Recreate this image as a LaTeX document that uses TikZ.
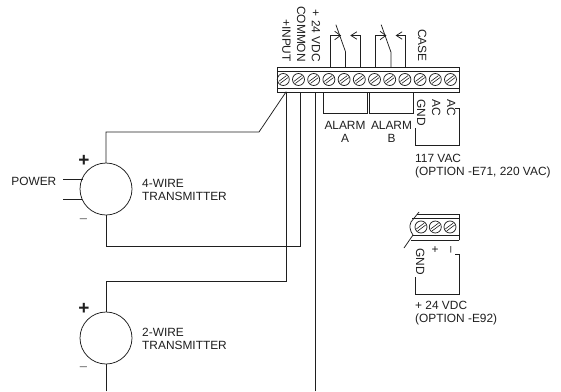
\documentclass[tikz,border=0pt]{standalone}
\usepackage{fontspec}
\setmainfont{Liberation Sans}
\definecolor{ink}{gray}{0.12}
\tikzset{
  wire/.style={draw=ink,line width=0.75pt,line cap=rect},
  lbl/.style={inner sep=0pt,font=\fontsize{11.9}{13}\selectfont,text=ink},
  lbll/.style={lbl,anchor=west,align=left},
  lblv/.style={lbl,rotate=-90,anchor=east},
  xmtr/.style={circle,draw=ink,line width=0.75pt,minimum size=52pt,inner sep=0pt},
  screw/.style={circle,draw=ink,line width=0.75pt,minimum size=12pt,inner sep=0pt},
  polar/.style={inner sep=0pt,font=\fontsize{19}{19}\selectfont\bfseries,text=ink},
  minusmark/.style={inner sep=0pt,font=\fontsize{13}{13}\selectfont,text=black!60},
}
\newcommand{\screwslot}[1]{%
  \draw[ink,line width=0.6pt] ([shift={(-4.6,1.9)}]#1.center)--([shift={(3.2,-3.9)}]#1.center);
  \draw[ink,line width=0.6pt] ([shift={(-3.2,3.9)}]#1.center)--([shift={(4.6,-1.9)}]#1.center);}
\begin{document}
\begin{tikzpicture}[x=1pt,y=-1pt]
\useasboundingbox (0,0) rectangle (561,391);
% terminal block
\draw[wire] (277,67) rectangle (459,92);
\draw[wire] (277,71)--(459,71) (277,88)--(459,88);
\foreach \i in {0,...,11}{
  \node[screw] (s\i) at ({283.3+15.2*\i},79.5) {};
  \screwslot{s\i}
}
% top labels
\node[lblv] (tinput) at (286.3,62) {+INPUT};
\node[lblv] (tcommon) at (301.2,62) {COMMON};
\node[lblv] (tvdc) at (316,62) {+ 24 VDC};
\node[lblv] (tcase) at (422.2,62) {CASE};
% transmitters
\node[xmtr] (x4) at (106,189) {};
\node[xmtr] (x2) at (106,338) {};
\node[polar] (p4) at (84,161) {+};
\node[minusmark] (m4) at (83.5,221) {–};
\node[polar] (p2) at (84,309) {+};
\node[minusmark] (m2) at (83.5,369) {–};
\node[lbll] (t4) at (142,190) {4-WIRE\\[0pt]TRANSMITTER};
\node[lbll] (t2) at (142,339) {2-WIRE\\[0pt]TRANSMITTER};
\node[lbl,anchor=east] (pw) at (56.5,181) {POWER};
% field wiring
\coordinate (bin) at (286,92);
\coordinate (bcom) at (300,92);
\coordinate (bvdc) at (315,92);
\coordinate (e2) at (106,391);
\coordinate (e3) at (315,391);
\draw[wire] (bin)--(259,132)--(106,132)--(x4.north);
\draw[wire] (x4.south)--(106,246)--(300,246)--(bcom);
\draw[wire] (bin)--(286,281)--(106,281)--(x2.north);
\draw[wire] (x2.south)--(e2);
\draw[wire] (bvdc)--(e3);
\coordinate (pa) at (63,179);
\coordinate (pb) at (63,199);
\draw[wire] (pa)--(83,179);
\draw[wire] (pb)--(82,199);
% relays
\foreach \d/\n in {0/a,45.3/b}{
  \begin{scope}[xshift=\d pt]
  \coordinate (r\n1) at (330.3,67);
  \coordinate (r\n2) at (345.6,67);
  \coordinate (r\n3) at (360.3,67);
  \draw[wire] (r\n1)--(330.3,35.5)--(340.5,35.5);
  \draw[wire] (335,31.5)--(340.5,35.5)--(335,39.5);
  \draw[wire] (r\n2)--(345.6,52)--(336,25);
  \draw[wire] (r\n3)--(360.3,35.5)--(351,35.5);
  \draw[wire] (356.5,32)--(351,35.5)--(356.5,39);
  \end{scope}
}
% alarm loops
\draw[wire] (323,92)--(323,113)--(367.5,113)--(367.5,92);
\draw[wire] (369.5,92)--(369.5,113)--(413.3,113)--(413.3,92);
\node[lbl] (la) at (345,125.5) {ALARM};
\node[lbl] (la2) at (345,138.5) {A};
\node[lbl] (lb) at (391.5,125.5) {ALARM};
\node[lbl] (lb2) at (391.5,138.5) {B};
% AC
\node[lblv,anchor=west] (gnd) at (421.2,99) {GND};
\node[lblv,anchor=west] (ac1) at (436.2,99) {AC};
\node[lblv,anchor=west] (ac2) at (451.2,99) {AC};
\draw[wire] (415,128)--(415,145)--(459,145)--(459,108)--(455,108);
\node[lbll] (acv) at (415,166) {117 VAC\\[0pt](OPTION -E71, 220 VAC)};
% small block
\draw[wire] (459,214)--(417,214);
\draw[wire] (459,218)--(412,218);
\draw[wire] (459,235)--(413,235);
\draw[wire] (459,240)--(411,240);
\draw[wire] (459,214)--(459,240);
\draw[wire,line cap=butt] (419,212)--(411,222) .. controls (409,226) and (410,231) .. (413,235)--(404,248);
\foreach \i/\x in {0/421,1/435.3,2/450}{
  \node[screw] (q\i) at (\x,227) {};
  \screwslot{q\i}
}
\node[lblv,anchor=west] (gnd2) at (420.2,248) {GND};
\node[lbl] (plus) at (435,250) {+};
\node[lbl,rotate=-90] (minus) at (449.5,250) {–};
\draw[wire] (415,277)--(415,294)--(459,294)--(459,254)--(455,254);
\node[lbll] (dcv) at (415,313) {+ 24 VDC\\[0pt](OPTION -E92)};
\end{tikzpicture}
\end{document}
